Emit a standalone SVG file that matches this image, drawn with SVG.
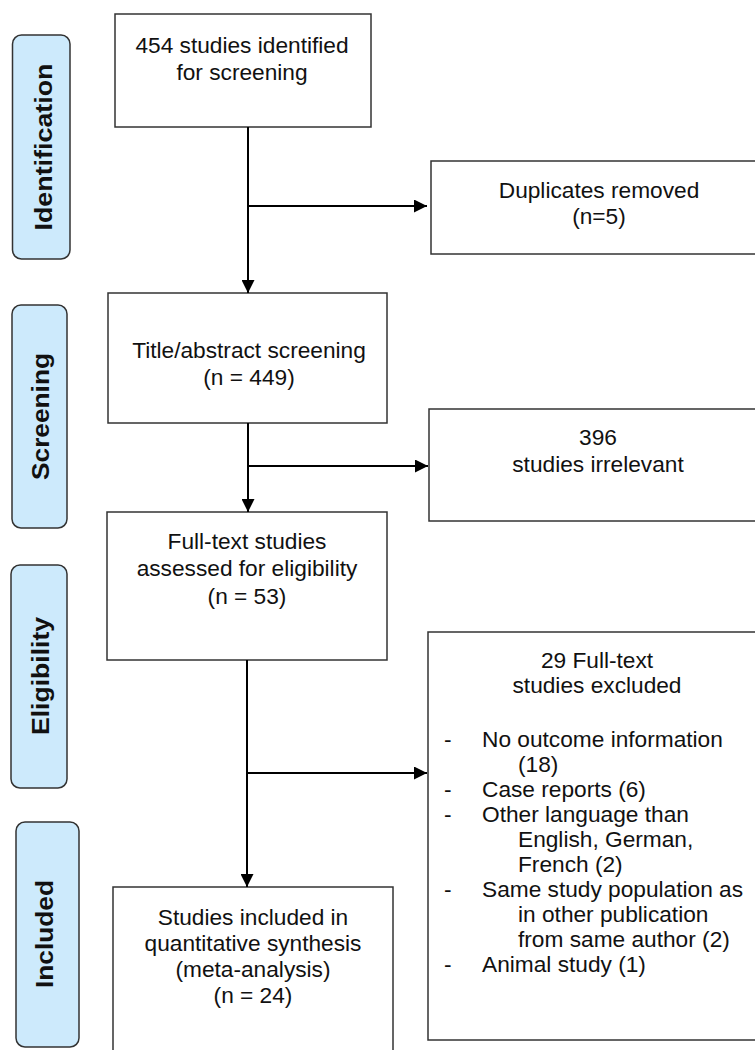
<svg xmlns="http://www.w3.org/2000/svg" width="755" height="1050" viewBox="0 0 755 1050">
<style>
.box{fill:#fff;stroke:#333;stroke-width:1.5}
.lab{fill:#cdeafc;stroke:#333;stroke-width:1.5}
.t{font-family:"Liberation Sans",Arial,sans-serif;font-size:22.7px;fill:#111;text-anchor:middle}
.tl{font-family:"Liberation Sans",Arial,sans-serif;font-size:22.7px;fill:#111}
.lt{font-family:"Liberation Sans",Arial,sans-serif;font-size:23px;font-weight:bold;fill:#111;text-anchor:middle}
.c{fill:none;stroke:#000;stroke-width:2}
</style>
<defs>
<marker id="ah" markerUnits="userSpaceOnUse" markerWidth="13" markerHeight="13" refX="13" refY="6.5" orient="auto">
<path d="M0,0 L13,6.5 L0,13 Z" fill="#000"/>
</marker>
</defs>

<g id="label-identification">
<rect class="lab" x="12.5" y="35" width="57.5" height="224" rx="9"/>
<text class="lt" transform="translate(51.5,147) rotate(-90)" textLength="167" lengthAdjust="spacingAndGlyphs">Identification</text>
</g>
<g id="label-screening">
<rect class="lab" x="12" y="305" width="55" height="223" rx="9"/>
<text class="lt" transform="translate(48.5,416.5) rotate(-90)" textLength="127" lengthAdjust="spacingAndGlyphs">Screening</text>
</g>
<g id="label-eligibility">
<rect class="lab" x="11" y="565" width="56" height="223" rx="9"/>
<text class="lt" transform="translate(48.5,676) rotate(-90)" textLength="118" lengthAdjust="spacingAndGlyphs">Eligibility</text>
</g>
<g id="label-included">
<rect class="lab" x="16" y="822" width="63" height="225" rx="9"/>
<text class="lt" transform="translate(53,934) rotate(-90)" textLength="108" lengthAdjust="spacingAndGlyphs">Included</text>
</g>

<g id="node-identified">
<rect class="box" x="115" y="14" width="256" height="113"/>
<text class="t" x="242" y="53">454 studies identified</text>
<text class="t" x="242" y="80">for screening</text>
</g>
<g id="node-duplicates">
<rect class="box" x="431" y="161" width="340" height="93"/>
<text class="t" x="599" y="198">Duplicates removed</text>
<text class="t" x="599" y="224">(n=5)</text>
</g>
<g id="node-title-screening">
<rect class="box" x="108" y="293" width="279" height="130"/>
<text class="t" x="249" y="358">Title/abstract screening</text>
<text class="t" x="249" y="385">(n = 449)</text>
</g>
<g id="node-irrelevant">
<rect class="box" x="429" y="409" width="340" height="112"/>
<text class="t" x="598" y="445">396</text>
<text class="t" x="598" y="472">studies irrelevant</text>
</g>
<g id="node-fulltext">
<rect class="box" x="107" y="512" width="280" height="148"/>
<text class="t" x="247" y="549">Full-text studies</text>
<text class="t" x="247" y="576">assessed for eligibility</text>
<text class="t" x="247" y="604">(n = 53)</text>
</g>
<g id="node-excluded">
<rect class="box" x="428" y="632" width="340" height="408"/>
<text class="t" x="597" y="668">29 Full-text</text>
<text class="t" x="597" y="693">studies excluded</text>
<text class="tl" x="444" y="747">-</text>
<text class="tl" x="482" y="747">No outcome information</text>
<text class="tl" x="518" y="772">(18)</text>
<text class="tl" x="444" y="797">-</text>
<text class="tl" x="482" y="797">Case reports (6)</text>
<text class="tl" x="444" y="822">-</text>
<text class="tl" x="482" y="822">Other language than</text>
<text class="tl" x="518" y="847">English, German,</text>
<text class="tl" x="518" y="872">French (2)</text>
<text class="tl" x="444" y="897">-</text>
<text class="tl" x="482" y="897">Same study population as</text>
<text class="tl" x="518" y="922">in other publication</text>
<text class="tl" x="518" y="947">from same author (2)</text>
<text class="tl" x="444" y="972">-</text>
<text class="tl" x="482" y="972">Animal study (1)</text>
</g>
<g id="node-included">
<rect class="box" x="113" y="887" width="280" height="180"/>
<text class="t" x="253" y="925">Studies included in</text>
<text class="t" x="253" y="951">quantitative synthesis</text>
<text class="t" x="253" y="977">(meta-analysis)</text>
<text class="t" x="253" y="1003">(n = 24)</text>
</g>

<g id="connectors">
<line class="c" x1="248" y1="127" x2="248" y2="293" marker-end="url(#ah)"/>
<line class="c" x1="248" y1="206" x2="427" y2="206" marker-end="url(#ah)"/>
<line class="c" x1="248" y1="423" x2="248" y2="512" marker-end="url(#ah)"/>
<line class="c" x1="248" y1="466" x2="428" y2="466" marker-end="url(#ah)"/>
<line class="c" x1="247" y1="660" x2="247" y2="887" marker-end="url(#ah)"/>
<line class="c" x1="247" y1="773" x2="427" y2="773" marker-end="url(#ah)"/>
</g>
</svg>
